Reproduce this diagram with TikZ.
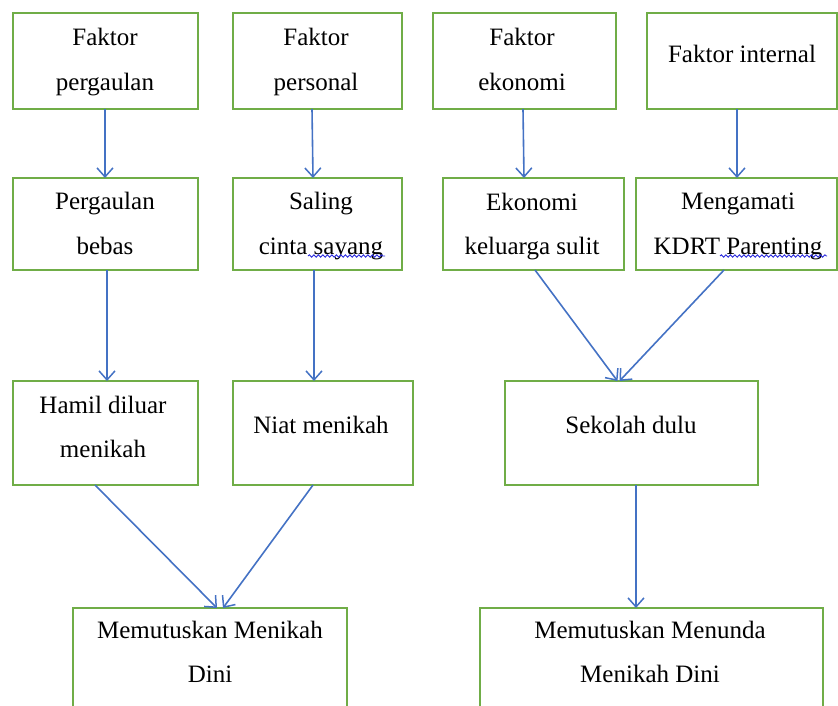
\documentclass[tikz,border=0pt]{standalone}
\usepackage{fontspec}
\setmainfont{Liberation Serif}
\newfontfamily\tnr{Liberation Serif}
\usetikzlibrary{arrows.meta,decorations.pathmorphing}
\definecolor{boxgreen}{RGB}{112,173,71}
\definecolor{arrblue}{RGB}{68,114,196}
\definecolor{squig}{RGB}{40,40,220}
\tikzset{
  box/.style={draw=boxgreen,line width=2pt,rectangle,inner sep=0pt,outer sep=0pt},
  txt/.style={anchor=base,inner sep=0pt,font=\tnr\fontsize{25}{30}\selectfont},
  arr/.style={draw=arrblue,line width=1.6pt,-{Straight Barb[length=9pt,width=16pt,line width=1.5pt]}},
  squiggle/.style={draw=squig,line width=0.9pt,decorate,decoration={snake,amplitude=1.2pt,segment length=4.5pt}}
}
\begin{document}
\begin{tikzpicture}[x=1pt,y=-1pt]
\useasboundingbox (0,0) rectangle (838,705);
\clip (0,0) rectangle (838,705);
% boxes
\node[box,minimum width=185pt,minimum height=96pt] (fp) at (105.5,61) {};
\node[box,minimum width=169pt,minimum height=96pt] (fps) at (317.5,61) {};
\node[box,minimum width=183pt,minimum height=96pt] (fe) at (524.5,61) {};
\node[box,minimum width=190pt,minimum height=96pt] (fi) at (742,61) {};
\node[box,minimum width=185pt,minimum height=92pt] (pb) at (105.5,224) {};
\node[box,minimum width=169pt,minimum height=92pt] (sc) at (317.5,224) {};
\node[box,minimum width=181pt,minimum height=92pt] (ek) at (533.5,224) {};
\node[box,minimum width=201pt,minimum height=92pt] (mk) at (736.5,224) {};
\node[box,minimum width=185pt,minimum height=104pt] (hm) at (105.5,433) {};
\node[box,minimum width=180pt,minimum height=104pt] (nm) at (323,433) {};
\node[box,minimum width=253pt,minimum height=104pt] (sd) at (631.5,433) {};
\node[box,minimum width=274pt,minimum height=112pt] (mmd) at (210,664) {};
\node[box,minimum width=343pt,minimum height=112pt] (mmn) at (651.5,664) {};
% texts
\node[txt] (fpa) at (105,45) {Faktor};
\node[txt] (fpb) at (105,90) {pergaulan};
\node[txt] (fpsa) at (316,45) {Faktor};
\node[txt] (fpsb) at (316,90) {personal};
\node[txt] (fea) at (522,45) {Faktor};
\node[txt] (feb) at (522,90) {ekonomi};
\node[txt] (fia) at (742,62) {Faktor internal};
\node[txt] (pba) at (105,209) {Pergaulan};
\node[txt] (pbb) at (105,254) {bebas};
\node[txt] (sca) at (321,209) {Saling};
\node[txt] (scb) at (321,254) {cinta sayang};
\node[txt] (eka) at (532,210) {Ekonomi};
\node[txt] (ekb) at (532,254) {keluarga sulit};
\node[txt] (mka) at (738,209) {Mengamati};
\node[txt] (mkb) at (738,254) {KDRT Parenting};
\node[txt] (hma) at (103,413) {Hamil diluar};
\node[txt] (hmb) at (103,457) {menikah};
\node[txt] (nma) at (321,433) {Niat menikah};
\node[txt] (sda) at (631,433) {Sekolah dulu};
\node[txt] (mmda) at (210,638) {Memutuskan Menikah};
\node[txt] (mmdb) at (210,682) {Dini};
\node[txt] (mmna) at (650,638) {Memutuskan Menunda};
\node[txt] (mmnb) at (650,682) {Menikah Dini};
% spell-check squiggles
\coordinate (sq1a) at (308,256);
\coordinate (sq1b) at (385,256);
\coordinate (sq2a) at (720,256);
\coordinate (sq2b) at (827,256);
\draw[squiggle] (sq1a) -- (sq1b);
\draw[squiggle] (sq2a) -- (sq2b);
% arrows
\draw[arr] ([xshift=-0.5pt]fp.south) -- ([xshift=-0.5pt]pb.north);
\draw[arr] ([xshift=-5.5pt]fps.south) -- ([xshift=-4.5pt]sc.north);
\draw[arr] ([xshift=-1.5pt]fe.south) -- ([xshift=-9.5pt]ek.north);
\draw[arr] ([xshift=-5pt]fi.south) -- ([xshift=0.5pt]mk.north);
\draw[arr] ([xshift=1.5pt]pb.south) -- ([xshift=1.5pt]hm.north);
\draw[arr] ([xshift=-3.5pt]sc.south) -- ([xshift=-9pt]nm.north);
\draw[arr] ([xshift=1.5pt]ek.south) -- ([xshift=-14pt]sd.north);
\draw[arr] ([xshift=-12.5pt]mk.south) -- ([xshift=-12pt]sd.north);
\draw[arr] ([xshift=-10.5pt]hm.south) -- ([xshift=7pt]mmd.north);
\draw[arr] ([xshift=-10pt]nm.south) -- ([xshift=13pt]mmd.north);
\draw[arr] ([xshift=4.5pt]sd.south) -- ([xshift=-15.5pt]mmn.north);
\end{tikzpicture}
\end{document}
